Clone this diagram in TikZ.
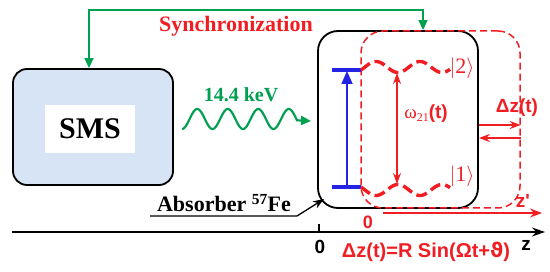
\documentclass[tikz,border=0pt]{standalone}
\usepackage{fontspec}
\setmainfont{Liberation Serif}
\newfontfamily\sansf{Liberation Sans}
\newfontfamily\djv{DejaVu Sans}
\usetikzlibrary{arrows.meta}
\definecolor{myred}{RGB}{240,30,35}
\definecolor{mygreen}{RGB}{0,160,80}
\definecolor{myblue}{RGB}{35,35,230}
\definecolor{smsfill}{RGB}{214,228,245}
\newcommand{\fsz}[1]{\fontsize{#1}{#1}\selectfont}
\begin{document}
\begin{tikzpicture}[x=1pt,y=-1pt,
  bigbox/.style={draw=black, line width=1.8pt, inner sep=0pt},
  syncline/.style={draw=mygreen, line width=1.5pt, {Triangle[length=10pt,width=9pt]}-{Triangle[length=10pt,width=9pt]}},
  redwave/.style={draw=myred, line width=3.4pt, dash pattern=on 11pt off 5pt},
  redarr/.style={draw=myred, line width=1.4pt, -{Stealth[length=11pt,width=8pt]}},
  lbl/.style={inner sep=0pt}]
\useasboundingbox (0,0) rectangle (550,272);

% boxes
\node[bigbox, fill=smsfill, minimum width=160pt, minimum height=116pt, rounded corners=14pt] (sms) at (93,127) {};
\node[fill=white, minimum width=90pt, minimum height=48pt, inner sep=0pt] (smslabel) at (90,129) {\fsz{30}\bfseries SMS};
\node[bigbox, minimum width=160pt, minimum height=177pt, rounded corners=20pt] (abs) at (398,119.5) {};
\node[draw=myred, dash pattern=on 7pt off 4pt, line width=1.5pt, minimum width=159pt, minimum height=177pt, rounded corners=22pt, inner sep=0pt] (move) at (440.5,119.5) {};

% synchronization
\coordinate (synctop) at (250,10);
\draw[syncline] ([xshift=-4pt]sms.north) |- (synctop) -| ([xshift=25pt]abs.north);
\node[lbl, text=myred] (sync) at (236,26) {\fsz{22}\bfseries Synchronization};

% gamma wave
\node[lbl, text=mygreen] (kev) at (241,95) {\fsz{20}\bfseries 14.4 keV};
\coordinate (wend) at (311,121);
\draw[mygreen, line width=2.2pt, -{Triangle[length=10pt,width=9pt]}]
  plot[domain=182:297, samples=140] (\x, {119 - 10*sin((\x-182)/30.5*360 - 90)}) -- (wend);

% levels
\draw[myblue, line width=3.2pt] (332,70) -- (361,70);
\draw[myblue, line width=3.2pt] (332,187) -- (361,187);
\draw[myblue, line width=1.6pt, -{Triangle[length=13pt,width=11pt]}] (347,187) -- (347,71);
\draw[redwave] plot[domain=361:450, samples=90] (\x, {67 - 5.5*sin((\x-365)/44*360)});
\draw[redwave] plot[domain=361:450, samples=90] (\x, {190 + 5.5*sin((\x-365)/44*360)});
\node[lbl, text=myred] (k2) at (462,68) {\fsz{22}$\Big|$2$\Big\rangle$};
\node[lbl, text=myred] (k1) at (462,176) {\fsz{22}$\Big|$1$\Big\rangle$};
\draw[myred, line width=1.3pt, {Stealth[length=11pt,width=8pt]}-{Stealth[length=11pt,width=8pt]}] (397,73) -- (397,184);
\node[lbl, text=myred] (omega) at (426,114) {\fsz{19}ω\raisebox{-3pt}{\fsz{12}21}{\sansf\bfseries (t)}};

% displacement arrows
\node[lbl, text=myred] (dz) at (517,108) {\fsz{19}\sansf\bfseries Δz(t)};
\draw[redarr] ([yshift=-5.5pt]abs.east) -- ([yshift=-5.5pt]move.east);
\draw[redarr] ([yshift=-18.5pt]move.east) -- ([yshift=-18.5pt]abs.east);

% moving axis
\coordinate (zpl) at (383,213);
\coordinate (zpr) at (542,213);
\draw[myred, line width=1.7pt, -{Stealth[length=12pt,width=9pt]}] (zpl) -- (zpr);
\node[lbl, text=myred] (zp) at (523,201) {\fsz{19}\sansf\bfseries z'};
\node[lbl, text=myred] (zero2) at (368,222) {\fsz{18}\sansf\bfseries 0};

% main axis
\coordinate (axl) at (12,232);
\coordinate (axr) at (545,232);
\draw[black, line width=1.5pt, -{Stealth[length=13pt,width=9pt]}] (axl) -- (axr);
\coordinate (tickb) at (319,232);
\draw[black, line width=1.3pt] (tickb) -- ++(0,-8);
\node[lbl] (zero) at (320,247) {\fsz{19}\sansf\bfseries 0};
\node[lbl] (zlab) at (526,245) {\fsz{19}\sansf\bfseries z};
\node[lbl, text=myred] (formula) at (426,252) {\fsz{20}\sansf\bfseries Δz(t)=R Sin(Ωt+{\djv ϑ})};

% absorber label
\node[lbl] (absl) at (224,203) {\fsz{22}\bfseries Absorber \textsuperscript{57}Fe};
\coordinate (ul) at (150,216);
\coordinate (ur) at (297,216);
\coordinate (abstip) at (324,199);
\draw[black, line width=1.3pt, -{Stealth[length=11pt,width=8pt]}] (ul) -- (ur) -- (abstip);
\end{tikzpicture}
\end{document}
